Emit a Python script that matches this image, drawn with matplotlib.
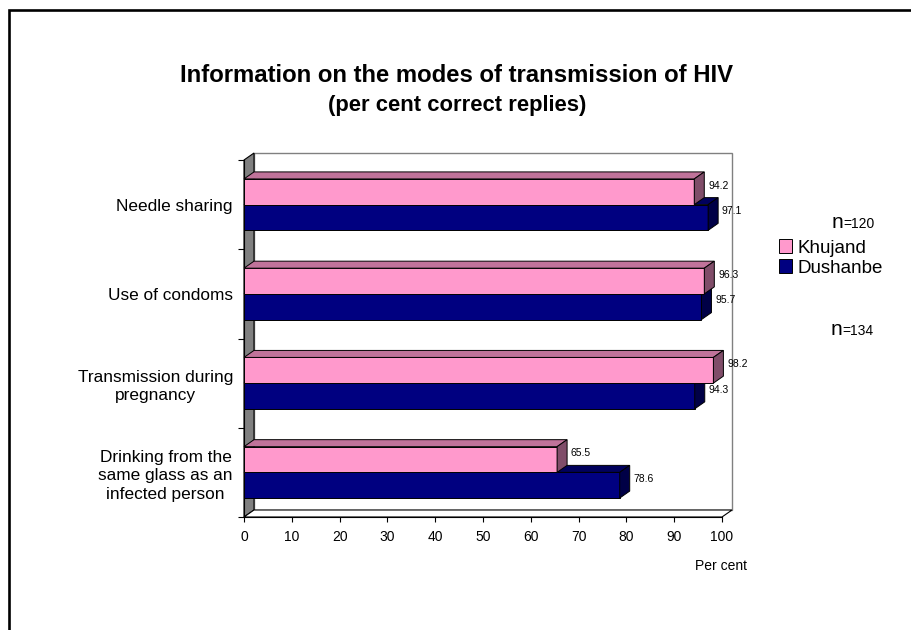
import matplotlib
matplotlib.use('Agg')
import matplotlib.pyplot as plt
from matplotlib.patches import Polygon, Patch, Rectangle

plt.rcParams['font.family'] = ['Liberation Sans', 'DejaVu Sans']

categories = ['Needle sharing', 'Use of condoms', 'Transmission during\npregnancy',
              'Drinking from the\nsame glass as an\ninfected person']
khujand = [94.2, 96.3, 98.2, 65.5]
dushanbe = [97.1, 95.7, 94.3, 78.6]
series_names = ['Khujand', 'Dushanbe']
n_labels = ['=120', '=134']
xticks = list(range(0, 101, 10))

if __name__ == '__main__':
    W, H = 912, 630
    fig = plt.figure(figsize=(W / 100, H / 100), dpi=100)
    ax_l, ax_b, ax_w, ax_h = 244, 113, 478, 357
    ax = fig.add_axes([ax_l / W, ax_b / H, ax_w / W, ax_h / H])
    n_cat = len(categories)
    ax.set_xlim(0, 100)
    ax.set_ylim(n_cat - 0.5, -0.5)

    # 3d depth, px -> data units
    dx = 10 / ax_w * 100
    dy = 7 / ax_h * n_cat
    bar_h = 0.288

    colordict = {
        'pink': ('#FF99CC', '#C0739A', '#804D69'),
        'blue': ('#000080', '#00005C', '#000046'),
    }

    y_lo, y_hi = -0.5, n_cat - 0.5
    # back wall
    ax.add_patch(Polygon([(dx, y_lo - dy), (100 + dx, y_lo - dy), (100 + dx, y_hi - dy), (dx, y_hi - dy)],
                         closed=True, facecolor='white', edgecolor='#808080', lw=1.0, clip_on=False, zorder=0.5))
    # left wall
    ax.add_patch(Polygon([(0, y_lo), (dx, y_lo - dy), (dx, y_hi - dy), (0, y_hi)],
                         closed=True, facecolor='#808080', edgecolor='black', lw=0.8, clip_on=False, zorder=0.6))
    # floor
    ax.add_patch(Polygon([(0, y_hi), (100, y_hi), (100 + dx, y_hi - dy), (dx, y_hi - dy)],
                         closed=True, facecolor='white', edgecolor='black', lw=0.8, clip_on=False, zorder=0.6))

    def bar3d(values, offset, cols, z):
        front, top, side = cols
        for i, v in enumerate(values):
            yc = i + offset
            t, b = yc - bar_h / 2, yc + bar_h / 2
            ax.barh(yc, v, height=bar_h, color=front, edgecolor='black', lw=0.7, zorder=z)
            ax.add_patch(Polygon([(0, t), (v, t), (v + dx, t - dy), (dx, t - dy)], closed=True,
                                 facecolor=top, edgecolor='black', lw=0.7, clip_on=False, zorder=z))
            ax.add_patch(Polygon([(v, t), (v, b), (v + dx, b - dy), (v + dx, t - dy)], closed=True,
                                 facecolor=side, edgecolor='black', lw=0.7, clip_on=False, zorder=z))
            ax.text(v + dx + 0.8, yc - 0.07, '%.1f' % v, fontsize=7.5, ha='left', va='center',
                    zorder=5, clip_on=False)

    bar3d(dushanbe, bar_h / 2, colordict['blue'], 2)
    bar3d(khujand, -bar_h / 2, colordict['pink'], 3)

    for s in ['top', 'right']:
        ax.spines[s].set_visible(False)
    for s in ['left', 'bottom']:
        ax.spines[s].set_linewidth(0.8)
        ax.spines[s].set_zorder(0.7)

    ax.set_xticks(xticks)
    ax.tick_params(axis='x', length=3.6, width=0.8, pad=6, labelsize=10)
    ax.set_yticks([k - 0.5 for k in range(n_cat + 1)])
    ax.set_yticklabels([])
    ax.tick_params(axis='y', which='major', length=4.3, width=0.8)
    ax.set_yticks(range(n_cat), categories, minor=True)
    ax.tick_params(axis='y', which='minor', length=0, pad=8, labelsize=12.4)
    for lbl in ax.get_yticklabels(minor=True):
        lbl.set_multialignment('center')
        lbl.set_linespacing(1.3)

    fig.text(721 / W, 1 - 566 / H, 'Per cent', fontsize=10, ha='center', va='center')

    fig.text(457 / W, 1 - 75 / H, 'Information on the modes of transmission of HIV',
             fontsize=17.2, fontweight='bold', ha='center', va='center')
    fig.text(457 / W, 1 - 106 / H, '(per cent correct replies)',
             fontsize=15.8, fontweight='bold', ha='center', va='center')

    handles = [Patch(facecolor=colordict['pink'][0], edgecolor='black', lw=0.7),
               Patch(facecolor=colordict['blue'][0], edgecolor='black', lw=0.7)]
    ax.legend(handles, series_names, loc='center left', bbox_to_anchor=(779 / W, 1 - 258 / H),
              bbox_transform=fig.transFigure, frameon=False, handlelength=0.7, handleheight=0.7,
              handletextpad=0.3, labelspacing=0.15, borderpad=0, borderaxespad=0, fontsize=13.5)

    # n= labels
    fig.text(843 / W, 1 - 228 / H, 'n', fontsize=15, ha='right', va='baseline')
    fig.text(843 / W, 1 - 228 / H, n_labels[0], fontsize=10, ha='left', va='baseline')
    fig.text(842 / W, 1 - 335 / H, 'n', fontsize=15, ha='right', va='baseline')
    fig.text(842 / W, 1 - 335 / H, n_labels[1], fontsize=10, ha='left', va='baseline')

    # outer frame of the chart area
    fig.patches.append(Rectangle((9.5 / W, -0.2), 1.2, 1.2 - 9.5 / H, transform=fig.transFigure,
                                 fill=False, edgecolor='black', lw=1.9, figure=fig))

    plt.savefig('out.png', dpi=100)
